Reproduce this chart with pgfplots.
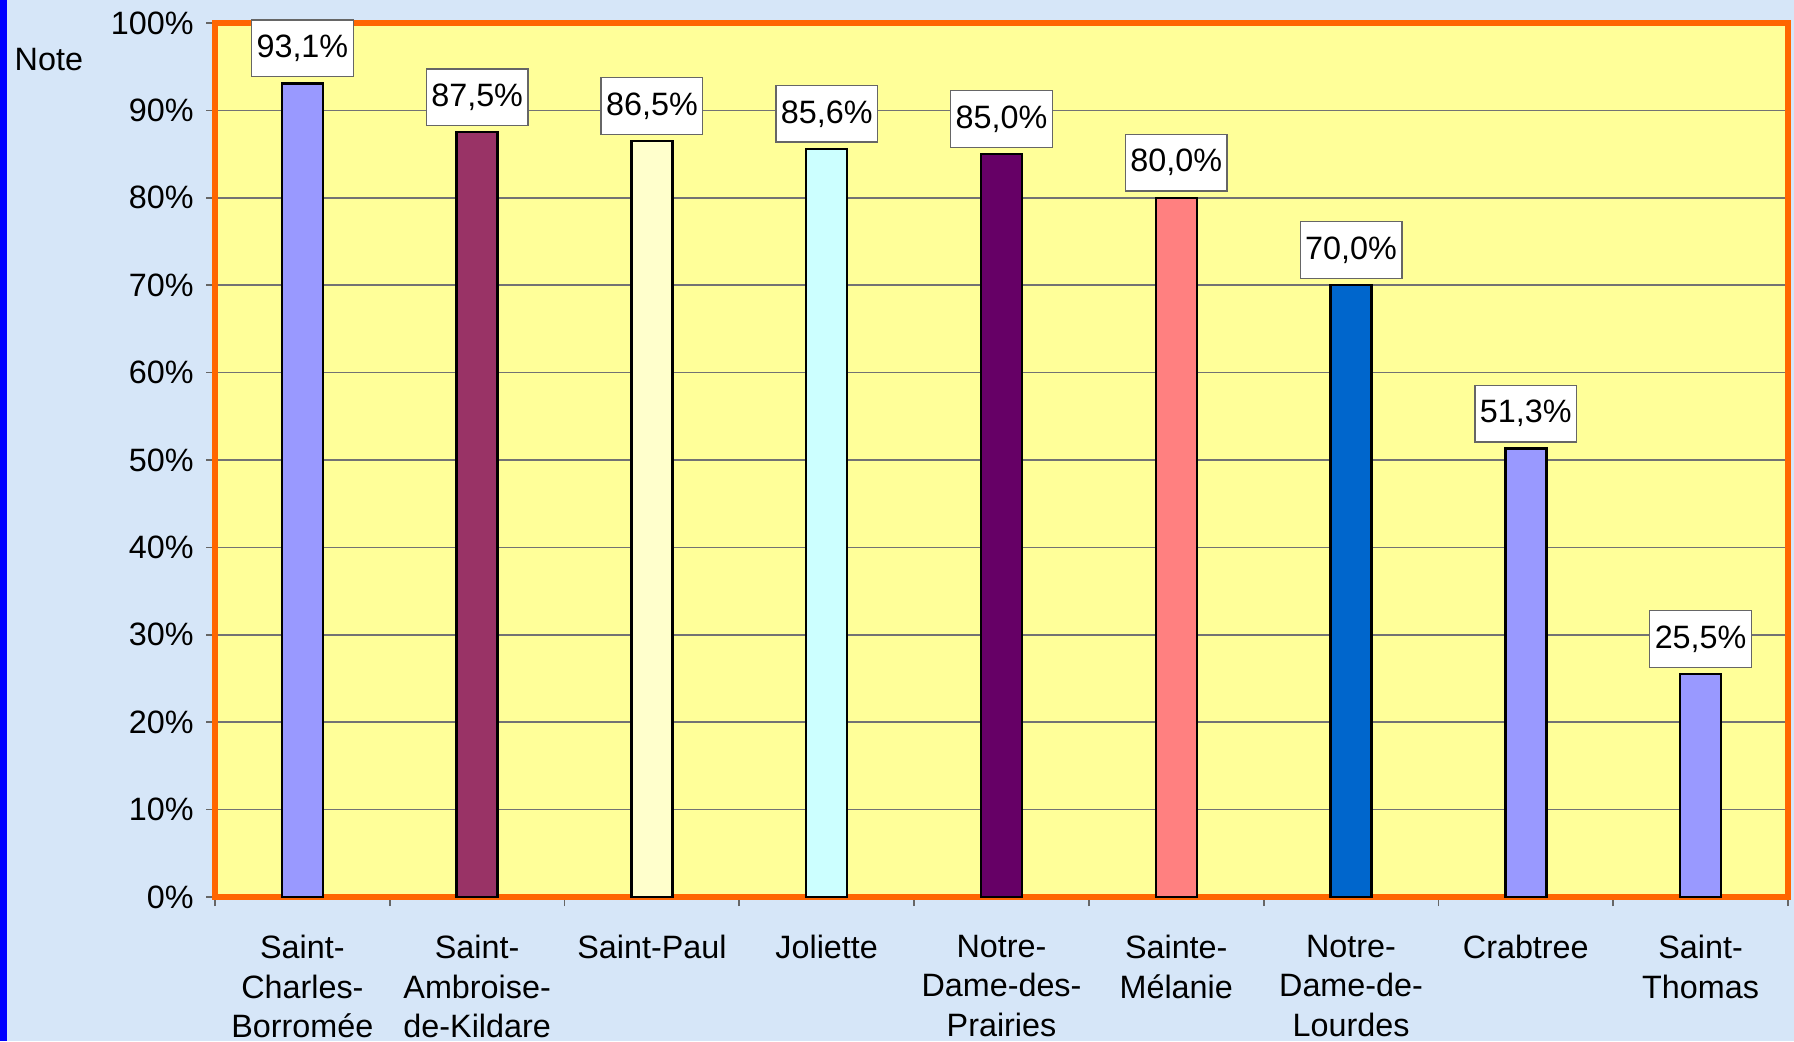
\documentclass[border=0pt]{standalone}
\usepackage{fontspec}
\setmainfont{Liberation Sans}
\usepackage{pgfplots}
\pgfplotsset{compat=1.18}
\definecolor{bgblue}{RGB}{214,230,248}
\definecolor{plotyellow}{RGB}{255,255,153}
\definecolor{frameorange}{RGB}{255,102,0}
\definecolor{cA}{RGB}{153,153,255}
\definecolor{cB}{RGB}{153,51,102}
\definecolor{cC}{RGB}{255,255,204}
\definecolor{cD}{RGB}{204,255,255}
\definecolor{cE}{RGB}{102,0,102}
\definecolor{cF}{RGB}{255,128,128}
\definecolor{cG}{RGB}{0,102,204}
\newcommand{\lblfont}{\fontsize{9.2}{11.3}\selectfont}
\begin{document}
\begin{tikzpicture}
\useasboundingbox (0,0) rectangle (179.4mm,104.1mm);
\fill[bgblue] (0,0) rectangle (179.4mm,104.1mm);
\fill[blue] (0,0) rectangle (0.75mm,104.1mm);
\node[anchor=west, font=\lblfont, inner sep=0pt] at (1.4mm,98.1mm) {Note};
\begin{axis}[
  at={(21.5mm,14.4mm)}, anchor=south west,
  scale only axis, width=157.3mm, height=87.4mm,
  xmin=-0.5, xmax=8.5, ymin=0, ymax=100,
  axis background/.style={fill=plotyellow},
  axis line style={draw=frameorange, line width=1.7pt},
  ymajorgrids, major grid style={color=black!55, line width=0.4pt},
  ytick={0,10,...,100},
  yticklabel={\pgfmathprintnumber{\tick}\%},
  xtick={0,...,8},
  minor xtick={-0.5,0.5,...,8.5},
  xtick pos=bottom, ytick pos=left,
  every major x tick/.append style={draw=none},
  tick align=outside,
  major tick length=0.9mm, minor tick length=0.9mm,
  tick style={color=black!60, line width=0.5pt},
  xticklabels={{Saint-\\Charles-\\Borromée},{Saint-\\Ambroise-\\de-Kildare},{Saint-Paul},{Joliette},{Notre-\\Dame-des-\\Prairies},{Sainte-\\Mélanie},{Notre-\\Dame-de-\\Lourdes},{Crabtree},{Saint-\\Thomas}},
  xticklabel style={align=center, font=\lblfont, yshift=-1.65mm},
  yticklabel style={font=\lblfont},
  /pgf/number format/assume math mode=true,
  ybar, bar width=4.1mm, bar shift=0pt,
  every axis plot/.append style={draw=black, line width=0.7pt},
  nodes near coords={\pgfmathprintnumber[fixed,fixed zerofill,precision=1,use comma]{\pgfplotspointmeta}\%},
  every node near coord/.append style={font=\lblfont, fill=white, draw=black!60, line width=0.4pt,
    inner xsep=0.5mm, inner ysep=1.5mm, anchor=south, yshift=0.6mm},
  clip=false,
]
\addplot[fill=cA] coordinates {(0,93.1)};
\addplot[fill=cB] coordinates {(1,87.5)};
\addplot[fill=cC] coordinates {(2,86.5)};
\addplot[fill=cD] coordinates {(3,85.6)};
\addplot[fill=cE] coordinates {(4,85.0)};
\addplot[fill=cF] coordinates {(5,80.0)};
\addplot[fill=cG] coordinates {(6,70.0)};
\addplot[fill=cA] coordinates {(7,51.3)};
\addplot[fill=cA] coordinates {(8,25.5)};
\end{axis}
\end{tikzpicture}
\end{document}
